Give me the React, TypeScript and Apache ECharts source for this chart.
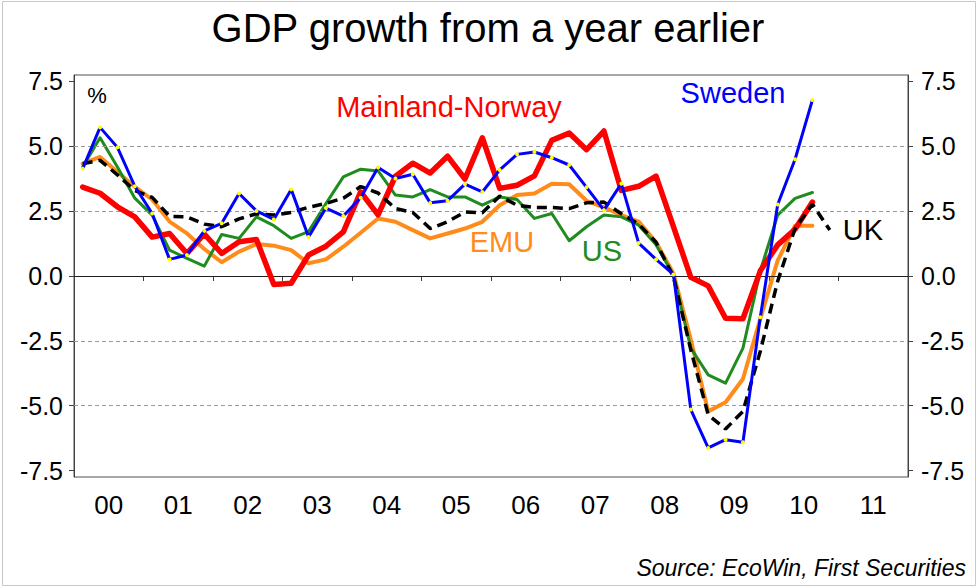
import React, { useEffect, useRef } from "react";
import * as echarts from "echarts";

const FONT = '"Liberation Sans", Arial, Helvetica, sans-serif';

const YEARS = ["00", "01", "02", "03", "04", "05", "06", "07", "08", "09", "10", "11"];

const QUARTERS = [
  "2000Q1", "2000Q2", "2000Q3", "2000Q4",
  "2001Q1", "2001Q2", "2001Q3", "2001Q4",
  "2002Q1", "2002Q2", "2002Q3", "2002Q4",
  "2003Q1", "2003Q2", "2003Q3", "2003Q4",
  "2004Q1", "2004Q2", "2004Q3", "2004Q4",
  "2005Q1", "2005Q2", "2005Q3", "2005Q4",
  "2006Q1", "2006Q2", "2006Q3", "2006Q4",
  "2007Q1", "2007Q2", "2007Q3", "2007Q4",
  "2008Q1", "2008Q2", "2008Q3", "2008Q4",
  "2009Q1", "2009Q2", "2009Q3", "2009Q4",
  "2010Q1", "2010Q2", "2010Q3", "2010Q4",
  "2011Q1", "2011Q2", "2011Q3", "2011Q4",
];

const Y_TICKS = [-7.5, -5, -2.5, 0, 2.5, 5, 7.5];
const GRID_DASHED = [-5, -2.5, 2.5, 5];

const SWEDEN = [
  4.14, 5.73, 4.96, 3.46, 2.41, 0.64, 0.81, 1.74, 2.03, 3.18, 2.51, 2.18,
  3.34, 1.5, 2.62, 2.31, 3.02, 4.18, 3.76, 3.92, 2.82, 2.9, 3.54, 3.24,
  4.09, 4.69, 4.78, 4.56, 4.28, 3.42, 2.54, 3.56, 1.27, 0.64, 0.06, -5.15,
  -6.63, -6.31, -6.41, -1.59, 2.76, 4.5, 6.79,
];

const NORWAY = [
  3.43, 3.19, 2.67, 2.28, 1.5, 1.64, 0.87, 1.62, 0.87, 1.32, 1.41, -0.33,
  -0.28, 0.81, 1.15, 1.7, 3.24, 2.36, 3.85, 4.35, 3.97, 4.62, 3.74, 5.33,
  3.38, 3.5, 3.86, 5.23, 5.51, 4.87, 5.59, 3.3, 3.46, 3.85, 1.9, -0.05,
  -0.38, -1.63, -1.65, 0.2, 1.2, 1.8, 2.85,
];

const US = [
  4.2, 5.33, 4.2, 3.0, 2.35, 1.0, 0.68, 0.38, 1.6, 1.45, 2.28, 1.94,
  1.45, 1.71, 2.79, 3.82, 4.12, 4.05, 3.12, 3.05, 3.33, 3.05, 3.05, 2.73,
  3.05, 2.95, 2.22, 2.41, 1.36, 1.9, 2.35, 2.28, 1.96, 1.2, 0.04, -2.78,
  -3.81, -4.13, -2.78, 0.2, 2.35, 2.99, 3.22,
];

const EMU = [
  4.33, 4.59, 4.01, 3.44, 2.95, 2.1, 1.64, 1.04, 0.53, 0.94, 1.23, 1.17,
  1.0, 0.49, 0.64, 1.13, 1.67, 2.22, 2.09, 1.77, 1.45, 1.64, 1.83, 2.09,
  2.73, 3.12, 3.18, 3.56, 3.54, 2.9, 2.65, 2.35, 2.1, 1.3, 0.1, -2.46,
  -5.22, -4.87, -3.97, -1.65, 0.6, 1.94, 1.94,
];

const UK = [
  4.33, 4.46, 3.9, 3.3, 3.03, 2.3, 2.28, 2.0, 1.9, 2.2, 2.4, 2.35,
  2.45, 2.65, 2.8, 3.0, 3.45, 3.2, 2.6, 2.45, 1.83, 2.09, 2.47, 2.44,
  3.08, 2.73, 2.64, 2.64, 2.6, 2.82, 2.85, 2.4, 2.0, 1.3, -0.03, -2.85,
  -5.35, -5.9, -5.22, -2.9, -0.2, 1.83, 2.77, 1.77,
];

const TITLE = "GDP growth from a year earlier";
const SOURCE = "Source: EcoWin, First Securities";

export default function App() {
  const ref = useRef<HTMLDivElement>(null);

  useEffect(() => {
    if (!ref.current) return;
    const chart = echarts.init(ref.current, null, { renderer: "svg" });

    const axisColor = "#404040";
    const yAxisBase = (position: "left" | "right") => ({
      type: "value",
      position,
      min: -7.75,
      max: 7.75,
      axisLine: { show: true, lineStyle: { color: axisColor, width: 1 } },
      axisTick: {
        show: true,
        length: 5,
        customValues: Y_TICKS,
        lineStyle: { color: axisColor },
      },
      axisLabel: {
        customValues: Y_TICKS,
        formatter: (v: number) => v.toFixed(1),
        fontSize: 25,
        color: "#000",
        fontFamily: FONT,
        margin: position === "left" ? 11 : 13,
      },
      splitLine: { show: false },
    });

    const line = (
      name: string,
      data: number[],
      color: string,
      width: number,
      z: number,
      extra: any = {}
    ) => ({
      type: "line",
      name,
      data,
      xAxisIndex: 1,
      yAxisIndex: 0,
      z,
      symbol: "none",
      silent: true,
      lineStyle: { color, width, cap: "round", join: "round" },
      itemStyle: { color },
      ...extra,
    });

    const option: any = {
      animation: false,
      backgroundColor: "#ffffff",
      grid: {
        left: 74,
        right: 70,
        top: 75,
        bottom: 110,
        show: true,
        borderColor: "#505050",
        borderWidth: 1,
        backgroundColor: "transparent",
      },
      xAxis: [
        {
          type: "category",
          data: YEARS,
          position: "bottom",
          boundaryGap: true,
          axisLine: { show: true, lineStyle: { color: axisColor } },
          axisTick: {
            show: true,
            length: 5,
            alignWithLabel: false,
            lineStyle: { color: axisColor },
          },
          axisLabel: {
            fontSize: 26,
            color: "#000",
            fontFamily: FONT,
            margin: 15,
          },
          splitLine: { show: false },
        },
        {
          type: "category",
          data: QUARTERS,
          position: "bottom",
          boundaryGap: true,
          show: false,
        },
      ],
      yAxis: [yAxisBase("left"), yAxisBase("right")],
      series: [
        {
          type: "line",
          name: "grid",
          data: [],
          xAxisIndex: 1,
          yAxisIndex: 0,
          z: 1,
          silent: true,
          symbol: "none",
          markLine: {
            silent: true,
            symbol: "none",
            label: { show: false },
            animation: false,
            data: [
              ...GRID_DASHED.map((v) => ({
                yAxis: v,
                lineStyle: { color: "#9a9a9a", type: [4, 3], width: 1 },
              })),
              { yAxis: 0, lineStyle: { color: "#202020", type: "solid", width: 1 } },
            ],
          },
        },
        line("EMU", EMU, "#ff8c1a", 4, 3),
        line("US", US, "#1e8c1e", 3, 4),
        line("Mainland-Norway", NORWAY, "#ff0000", 5.5, 5),
        line("UK", UK, "#000000", 3.5, 6, {
          lineStyle: { color: "#000000", width: 3.5, type: [10, 6] },
        }),
        line("Sweden", SWEDEN, "#0000ff", 3, 7, {
          symbol: "circle",
          symbolSize: 4,
          showSymbol: true,
          showAllSymbol: true,
          itemStyle: { color: "#ffff00", borderWidth: 0 },
          lineStyle: { color: "#0000ff", width: 3 },
        }),
      ],
      graphic: [
        {
          type: "rect",
          shape: { x: 2.5, y: 1.5, width: 973, height: 584 },
          style: { fill: "none", stroke: "#c8c8c8", lineWidth: 1 },
          silent: true,
          z: 0,
        },
        {
          type: "text",
          x: 488,
          y: 28,
          style: {
            text: TITLE,
            fontSize: 40,
            fontFamily: FONT,
            fill: "#000",
            align: "center",
            verticalAlign: "middle",
          },
        },
        {
          type: "text",
          x: 97,
          y: 95,
          style: {
            text: "%",
            fontSize: 22,
            fontFamily: FONT,
            fill: "#000",
            align: "center",
            verticalAlign: "middle",
          },
        },
        {
          type: "text",
          x: 449,
          y: 107,
          style: {
            text: "Mainland-Norway",
            fontSize: 29,
            fontFamily: FONT,
            fill: "#ff0000",
            align: "center",
            verticalAlign: "middle",
          },
        },
        {
          type: "text",
          x: 733,
          y: 93,
          style: {
            text: "Sweden",
            fontSize: 29,
            fontFamily: FONT,
            fill: "#0000ff",
            align: "center",
            verticalAlign: "middle",
          },
        },
        {
          type: "text",
          x: 502,
          y: 242,
          style: {
            text: "EMU",
            fontSize: 29,
            fontFamily: FONT,
            fill: "#ff8c1a",
            align: "center",
            verticalAlign: "middle",
          },
        },
        {
          type: "text",
          x: 602,
          y: 251,
          style: {
            text: "US",
            fontSize: 29,
            fontFamily: FONT,
            fill: "#1e8c1e",
            align: "center",
            verticalAlign: "middle",
          },
        },
        {
          type: "text",
          x: 863,
          y: 230,
          style: {
            text: "UK",
            fontSize: 29,
            fontFamily: FONT,
            fill: "#000",
            align: "center",
            verticalAlign: "middle",
          },
        },
        {
          type: "text",
          x: 966,
          y: 568,
          style: {
            text: SOURCE,
            fontSize: 23,
            fontStyle: "italic",
            fontFamily: FONT,
            fill: "#000",
            align: "right",
            verticalAlign: "middle",
          },
        },
      ],
    };

    chart.setOption(option);
    return () => chart.dispose();
  }, []);

  return (
    <div
      ref={ref}
      style={{ position: "absolute", left: 0, top: 0, width: 978, height: 587 }}
    />
  );
}
